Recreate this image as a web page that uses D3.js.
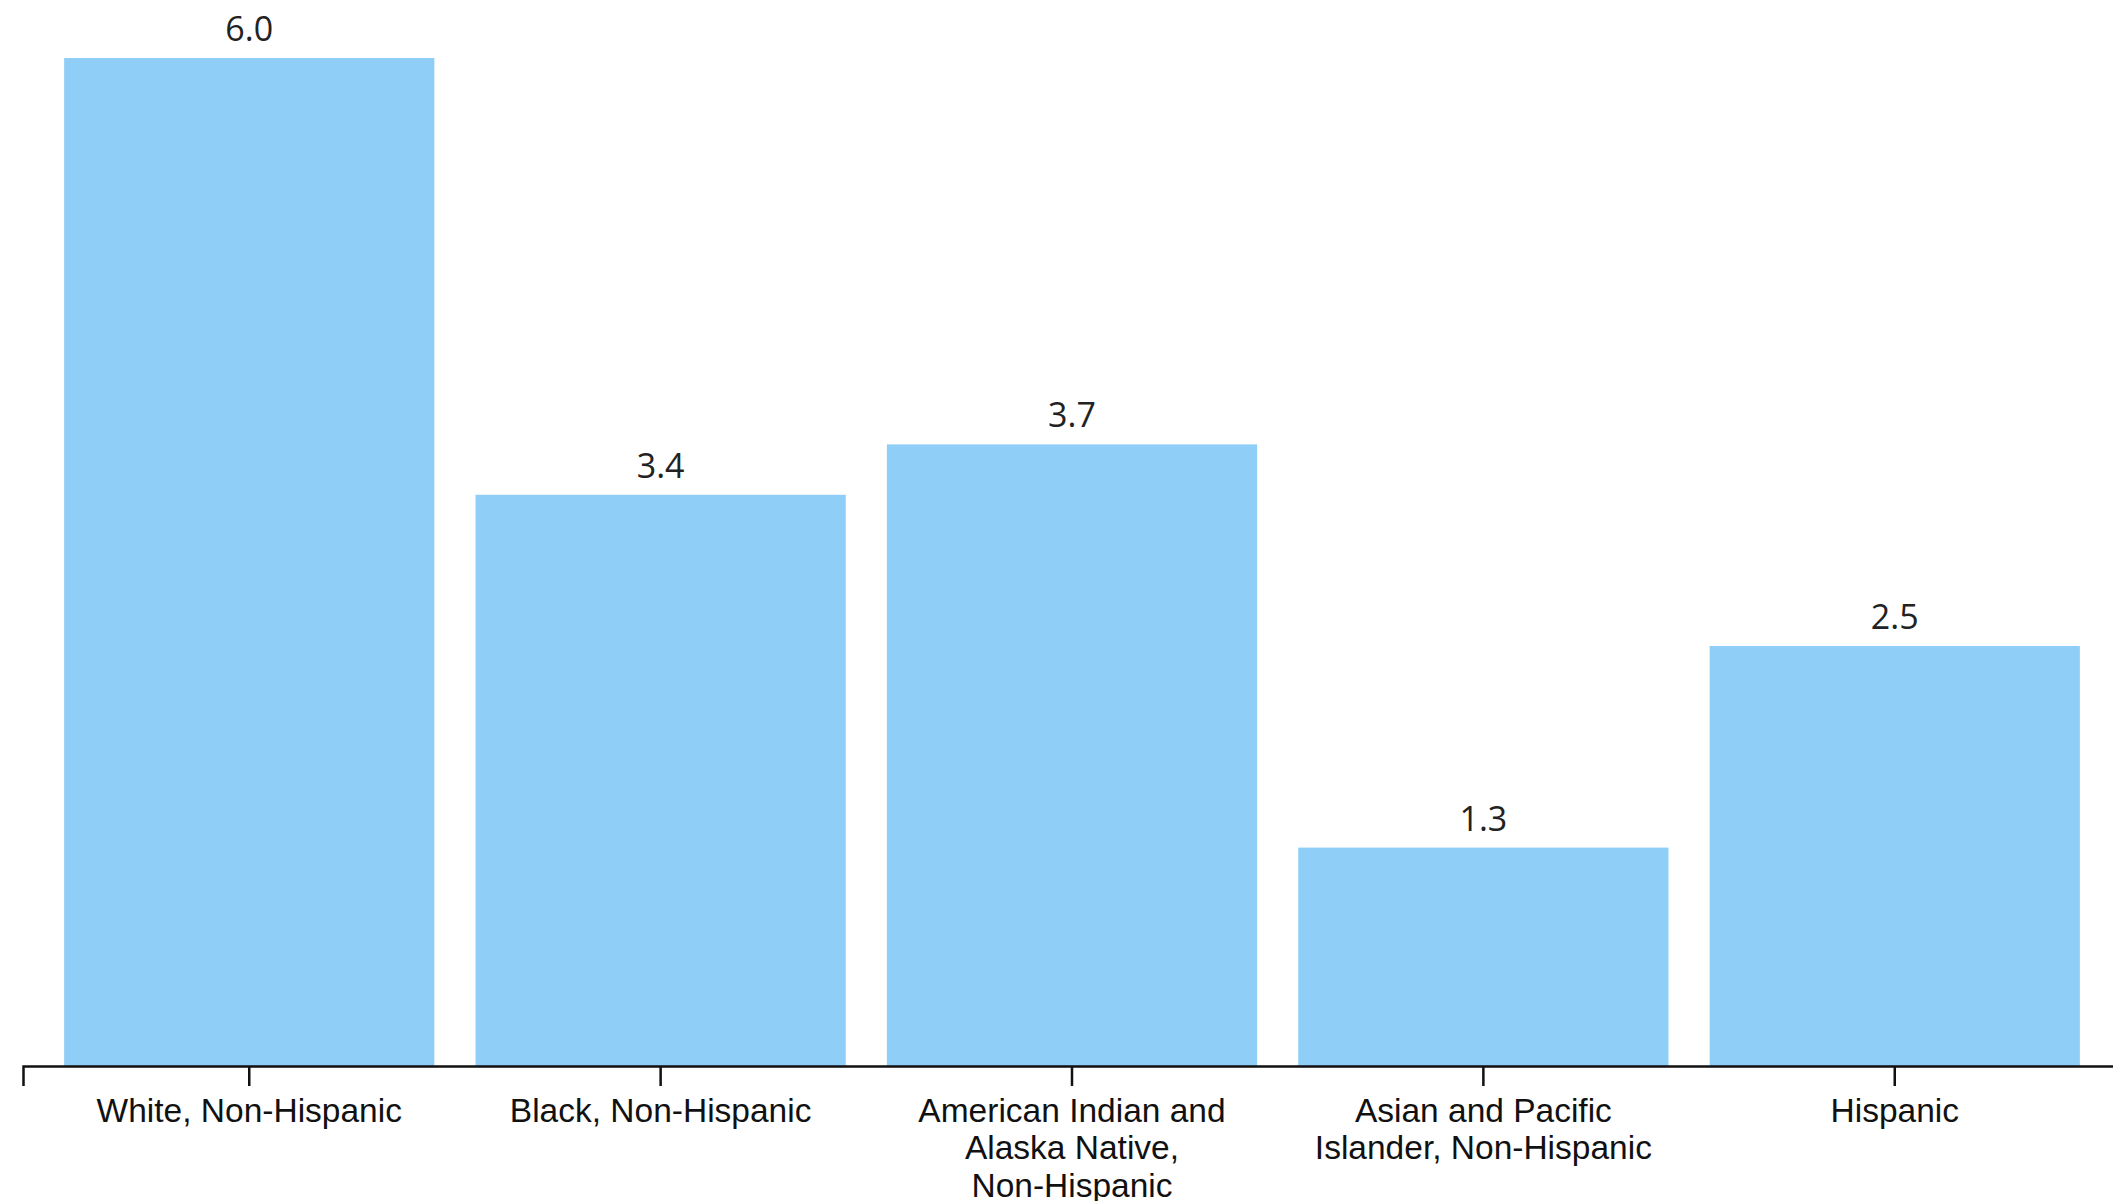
<!DOCTYPE html>
<html>
<head>
<meta charset="utf-8">
<script src="https://cdn.jsdelivr.net/npm/d3@7"></script>
<style>
  html, body { margin: 0; padding: 0; background: #fff; }
  svg { display: block; }
</style>
</head>
<body>
<svg id="chart" width="2113" height="1201"></svg>
<script>
// Rate by race/ethnicity
const categories = [
  "White, Non-Hispanic",
  "Black, Non-Hispanic",
  "American Indian and Alaska Native, Non-Hispanic",
  "Asian and Pacific Islander, Non-Hispanic",
  "Hispanic"
];
const values = [6.0, 3.4, 3.7, 1.3, 2.5];
const valueLabels = ["6.0", "3.4", "3.7", "1.3", "2.5"];

const width = 2113, height = 1201;
const svg = d3.select("#chart");

const x = d3.scaleBand()
  .domain(categories)
  .range([23, 2121])
  .paddingInner(0.1)
  .paddingOuter(0.1);

const y = d3.scaleLinear()
  .domain([0, 6])
  .range([1066, 58]);

const data = categories.map((c, i) => ({ c, v: values[i], label: valueLabels[i] }));

// bars
svg.append("g")
  .selectAll("rect")
  .data(data)
  .join("rect")
  .attr("x", d => x(d.c))
  .attr("y", d => y(d.v))
  .attr("width", x.bandwidth())
  .attr("height", d => y(0) - y(d.v))
  .attr("fill", "#8fcef7");

// value labels
svg.append("g")
  .selectAll("text")
  .data(data)
  .join("text")
  .attr("x", d => x(d.c) + x.bandwidth() / 2)
  .attr("y", d => y(d.v) - 17)
  .attr("text-anchor", "middle")
  .attr("font-family", "'Open Sans', 'Noto Sans', sans-serif")
  .attr("font-size", 34)
  .attr("fill", "#222")
  .text(d => d.label);

// x axis
const axis = svg.append("g")
  .attr("transform", `translate(0,${y(0)})`)
  .call(d3.axisBottom(x).tickSize(20).tickSizeOuter(20).tickPadding(12));

axis.select(".domain").attr("stroke", "#111").attr("stroke-width", 2.5);
axis.selectAll(".tick line").attr("stroke", "#111").attr("stroke-width", 2.5);
axis.selectAll(".tick text")
  .attr("font-family", "'Liberation Sans', Arial, sans-serif")
  .attr("font-size", 33.5)
  .attr("fill", "#111")
  .call(wrap, x.bandwidth());

function wrap(sel, w) {
  sel.each(function () {
    const text = d3.select(this);
    const words = text.text().split(/\s+/);
    const yPos = +text.attr("y");
    const dy = parseFloat(text.attr("dy"));
    text.text(null);
    let line = [];
    let lineNo = 0;
    let tspan = text.append("tspan").attr("x", 0).attr("y", yPos).attr("dy", dy + "em");
    for (const word of words) {
      line.push(word);
      tspan.text(line.join(" "));
      if (tspan.node().getComputedTextLength() > w && line.length > 1) {
        line.pop();
        tspan.text(line.join(" "));
        line = [word];
        lineNo++;
        tspan = text.append("tspan").attr("x", 0).attr("y", yPos)
          .attr("dy", (lineNo * 1.12 + dy) + "em").text(word);
      }
    }
  });
}
</script>
</body>
</html>
